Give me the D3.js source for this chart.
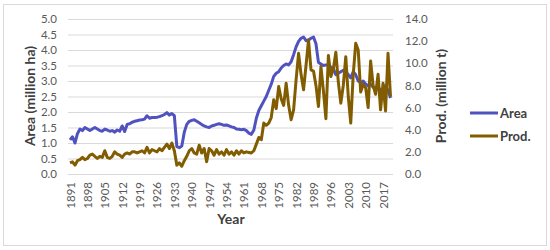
<!DOCTYPE html>
<html>
<head>
<meta charset="utf-8">
<script src="https://cdn.jsdelivr.net/npm/d3@7"></script>
<style>
  body { margin: 0; background: #fff; }
  text { font-family: Lato, "Open Sans", sans-serif; }
</style>
</head>
<body>
<div id="chart"></div>
<script>
// categories: one per year
var years = d3.range(1891, 2021)

// harvested area, million ha
var area = [
  1.1, 1.2, 1.0, 1.3, 1.45, 1.4, 1.5, 1.45, 1.4, 1.45,
  1.5, 1.45, 1.4, 1.38, 1.45, 1.42, 1.38, 1.4, 1.35, 1.42,
  1.38, 1.55, 1.37, 1.6, 1.62, 1.67, 1.7, 1.72, 1.74, 1.75,
  1.77, 1.88, 1.8, 1.82, 1.82, 1.83, 1.85, 1.88, 1.92, 1.98,
  1.9, 1.95, 1.88, 0.88, 0.85, 0.9, 1.35, 1.6, 1.7, 1.73,
  1.75, 1.7, 1.65, 1.6, 1.55, 1.52, 1.5, 1.55, 1.57, 1.6,
  1.62, 1.6, 1.57, 1.58, 1.55, 1.52, 1.5, 1.45, 1.44, 1.43,
  1.44, 1.4, 1.32, 1.28, 1.42, 1.8, 2.05, 2.2, 2.35, 2.5,
  2.7, 2.9, 3.15, 3.25, 3.3, 3.42, 3.5, 3.55, 3.52, 3.62,
  3.85, 4.1, 4.28, 4.38, 4.42, 4.3, 4.32, 4.38, 4.42, 4.2,
  3.6, 3.55, 3.5, 3.52, 3.5, 3.45, 3.4, 3.2, 3.25, 3.3,
  3.35, 3.3, 3.2, 3.1, 3.3, 3.2, 3.0, 2.95, 3.0, 2.9,
  2.85, 2.9, 2.8, 2.75, 2.8, 2.7, 2.75, 2.85, 2.7, 2.45
]

// production, million t
var prod = [
  1.0, 1.1, 0.8, 1.2, 1.3, 1.5, 1.3, 1.4, 1.7, 1.8,
  1.6, 1.4, 1.6, 1.5, 2.1, 1.5, 1.4, 1.6, 2.0, 1.8,
  1.7, 1.5, 1.8, 1.9, 1.8, 2.0, 2.0, 1.9, 2.0, 2.1,
  1.9, 2.4, 1.9, 2.2, 2.1, 2.0, 2.3, 2.1, 2.4, 2.7,
  2.3, 2.8, 2.1, 0.8, 1.0, 0.7, 1.2, 1.6, 2.1, 2.3,
  1.9, 1.8, 2.6, 1.9, 2.3, 1.1, 2.3, 2.1, 1.7, 2.2,
  1.8, 2.0, 1.7, 2.2, 1.8, 2.0, 1.7, 2.1, 1.8, 2.1,
  1.9, 2.0, 1.95, 1.9, 2.1, 2.7, 3.3, 3.1, 4.6, 4.4,
  4.6, 5.1, 6.7, 5.9, 7.9, 6.8, 6.2, 8.2, 6.2, 4.9,
  5.8, 8.5, 10.9, 9.0, 7.6, 9.8, 12.1, 9.4, 9.3, 8.0,
  6.1, 9.7, 7.5, 5.0, 10.7, 8.8, 9.5, 11.0, 8.3, 6.4,
  8.0, 10.6, 7.0, 4.6, 9.0, 11.8, 11.2, 7.4, 8.1, 7.8,
  6.0, 10.2, 8.0, 7.2, 9.0, 5.8, 8.2, 5.7, 10.9, 7.0
]

var xTicks = d3.range(1891, 2021, 7)
var leftTicks = d3.range(0, 5.01, 0.5)
var rightTicks = d3.range(0, 14.01, 2)

var width = 550, height = 250
var plot = { left: 68, right: 393, top: 19, bottom: 174 }

var svg = d3.select("#chart")
    .append("svg")
    .attr("width", width)
    .attr("height", height)

// chart border
svg.append("rect")
    .attr("x", 3.5).attr("y", 4.5)
    .attr("width", 543).attr("height", 241)
    .attr("fill", "#fff")
    .attr("stroke", "#d9d9d9")

var x = d3.scaleLinear().domain([1891, 2020]).range([70, 390.5])
var yL = d3.scaleLinear().domain([0, 5]).range([plot.bottom, plot.top])
var yR = d3.scaleLinear().domain([0, 14]).range([plot.bottom, plot.top])

// gridlines
svg.append("g")
    .attr("transform", "translate(" + plot.left + ",0)")
    .call(d3.axisRight(yL).tickValues(leftTicks).tickSize(plot.right - plot.left).tickFormat(""))
    .call(g => g.select(".domain").remove())
    .call(g => g.selectAll("line").attr("stroke", "#d9d9d9").attr("stroke-width", 1))

// left axis labels
svg.append("g")
    .attr("transform", "translate(" + (plot.left - 3) + ",0)")
    .call(d3.axisLeft(yL).tickValues(leftTicks).tickSize(0).tickPadding(8).tickFormat(d3.format(".1f")))
    .call(g => g.select(".domain").remove())
    .call(g => g.selectAll("text").attr("fill", "#595959").style("font-size", "11.5px"))

// right axis labels
svg.append("g")
    .attr("transform", "translate(" + (plot.right + 4) + ",0)")
    .call(d3.axisRight(yR).tickValues(rightTicks).tickSize(0).tickPadding(8).tickFormat(d3.format(".1f")))
    .call(g => g.select(".domain").remove())
    .call(g => g.selectAll("text").attr("fill", "#595959").style("font-size", "11.5px"))

// x axis
var xAxis = svg.append("g")
    .attr("transform", "translate(0," + plot.bottom + ")")
    .call(d3.axisBottom(x).tickValues(xTicks).tickSize(0).tickFormat(d3.format("d")))
xAxis.select(".domain")
    .attr("d", "M" + plot.left + ",0.5H" + plot.right)
    .attr("stroke", "#d9d9d9")
xAxis.selectAll("text")
    .attr("fill", "#595959")
    .style("font-size", "11.5px")
    .attr("text-anchor", "end")
    .attr("transform", "rotate(-90)")
    .attr("x", -8)
    .attr("y", 0)
    .attr("dy", "0.35em")

// lines
var lineArea = d3.line()
    .x((d, i) => x(years[i]))
    .y(d => yL(d))
var lineProd = d3.line()
    .x((d, i) => x(years[i]))
    .y(d => yR(d))

svg.append("path")
    .datum(area)
    .attr("d", lineArea)
    .attr("fill", "none")
    .attr("stroke", "#5052c0")
    .attr("stroke-width", 3)
    .attr("stroke-linejoin", "round")

svg.append("path")
    .datum(prod)
    .attr("d", lineProd)
    .attr("fill", "none")
    .attr("stroke", "#825c00")
    .attr("stroke-width", 3)
    .attr("stroke-linejoin", "round")

// axis titles
svg.append("text")
    .attr("transform", "translate(35,96) rotate(-90)")
    .attr("text-anchor", "middle")
    .attr("fill", "#404040")
    .style("font-size", "14px")
    .style("font-weight", "bold")
    .text("Area (million ha)")

svg.append("text")
    .attr("transform", "translate(446,96) rotate(-90)")
    .attr("text-anchor", "middle")
    .attr("fill", "#404040")
    .style("font-size", "14px")
    .style("font-weight", "bold")
    .text("Prod. (million t)")

svg.append("text")
    .attr("x", 231).attr("y", 224)
    .attr("text-anchor", "middle")
    .attr("fill", "#404040")
    .style("font-size", "14px")
    .style("font-weight", "bold")
    .text("Year")

// legend
var legend = [
  { name: "Area", color: "#5052c0", y: 113 },
  { name: "Prod.", color: "#825c00", y: 136 }
]
var lg = svg.selectAll(".legend")
    .data(legend)
    .enter()
    .append("g")
    .attr("transform", d => "translate(470," + d.y + ")")
lg.append("line")
    .attr("x1", 0).attr("x2", 28)
    .attr("stroke", d => d.color)
    .attr("stroke-width", 3)
lg.append("text")
    .attr("x", 30).attr("dy", "0.35em")
    .attr("fill", "#404040")
    .style("font-size", "13px")
    .style("font-weight", "bold")
    .text(d => d.name)
</script>
</body>
</html>
